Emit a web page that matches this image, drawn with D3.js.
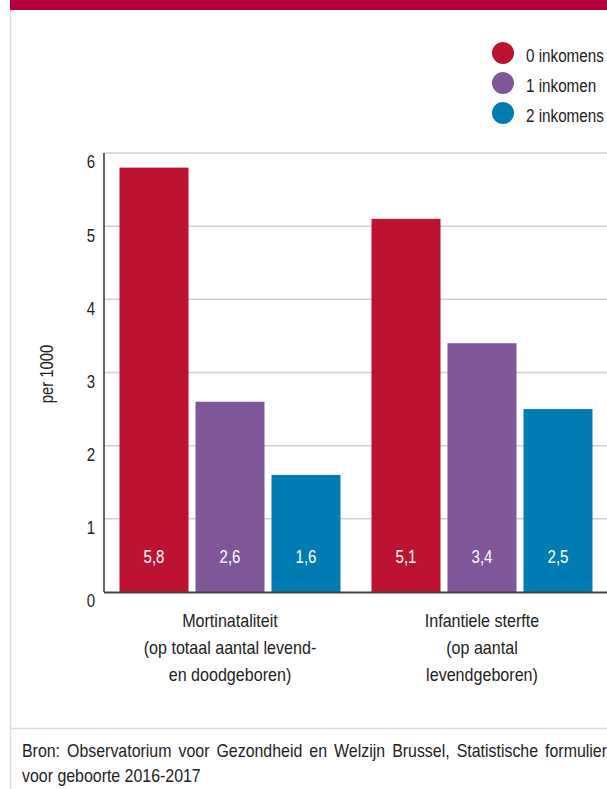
<!DOCTYPE html>
<html>
<head>
<meta charset="utf-8">
<script src="https://cdn.jsdelivr.net/npm/d3@7"></script>
<style>
  html, body { margin: 0; padding: 0; background: #fff; }
  svg { display: block; font-family: "Liberation Sans", Arial, sans-serif; }
</style>
</head>
<body>
<svg id="chart" width="607" height="789"></svg>
<script>
// Perinatal and infant mortality (per 1000) by number of household incomes
const groups = ["Mortinataliteit", "Infantiele sterfte"];
const groupLabels = [
  ["Mortinataliteit", "(op totaal aantal levend-", "en doodgeboren)"],
  ["Infantiele sterfte", "(op aantal", "levendgeboren)"]
];
const seriesNames = ["0 inkomens", "1 inkomen", "2 inkomens"];
const seriesColors = ["#be1233", "#7f5799", "#007cb3"];
const values0 = [5.8, 5.1];   // 0 inkomens
const values1 = [2.6, 3.4];   // 1 inkomen
const values2 = [1.6, 2.5];   // 2 inkomens
const yTicks = [0, 1, 2, 3, 4, 5, 6];
const yTitle = "per 1000";
const sourceLines = [
  "Bron: Observatorium voor Gezondheid en Welzijn Brussel, Statistische formulier",
  "voor geboorte 2016-2017"
];

const seriesValues = [values0, values1, values2];
const fmt = v => String(v).replace(".", ",");
const FS = 17.5;

// narrow the lettering horizontally around each text's own x anchor
function condense(sel, sx) {
  sel.each(function () {
    const x = +(this.getAttribute("x") || 0);
    this.setAttribute("transform", `translate(${x},0) scale(${sx},1) translate(${-x},0)`);
  });
}

const svg = d3.select("#chart");

// header band and frame
svg.append("rect").attr("x", 10).attr("y", 0).attr("width", 597).attr("height", 10).attr("fill", "#b3003a");
svg.append("line").attr("x1", 10.5).attr("x2", 10.5).attr("y1", 10).attr("y2", 789)
  .attr("stroke", "#dcdcdc").attr("stroke-width", 1.5);
svg.append("line").attr("x1", 10).attr("x2", 607).attr("y1", 728.5).attr("y2", 728.5)
  .attr("stroke", "#dcdcdc").attr("stroke-width", 1.5);

const plot = { left: 104, right: 608, top: 153, bottom: 592 };

const x0 = d3.scaleBand().domain(groups).range([plot.left, plot.right]).padding(0);
const x1 = d3.scaleBand().domain(seriesNames).range([0, x0.bandwidth()])
  .paddingInner(0.092).paddingOuter(0.204);
const y = d3.scaleLinear().domain([0, 6]).range([plot.bottom, plot.top]);

// gridlines
svg.append("g")
  .selectAll("line").data(yTicks.filter(t => t > 0)).join("line")
  .attr("x1", plot.left).attr("x2", 607)
  .attr("y1", d => y(d)).attr("y2", d => y(d))
  .attr("stroke", "#d0d0d0").attr("stroke-width", 1.5);

// y axis labels
const yAxis = d3.axisLeft(y).tickValues(yTicks).tickFormat(d3.format("d")).tickSize(0).tickPadding(9);
const gy = svg.append("g").attr("transform", `translate(${plot.left},0)`).call(yAxis);
gy.select(".domain").remove();
gy.selectAll("text").attr("font-size", FS).attr("fill", "#222").attr("dy", "0.85em")
  .attr("font-family", null);
condense(gy.selectAll("text"), 0.86);

svg.append("text")
  .attr("transform", `translate(53,374) rotate(-90) scale(0.85,1)`)
  .attr("text-anchor", "middle").attr("font-size", FS).attr("fill", "#222")
  .text(yTitle);

// bars
const barData = [];
groups.forEach((g, gi) => seriesNames.forEach((s, si) => {
  barData.push({ g, s, si, v: seriesValues[si][gi] });
}));

const bars = svg.append("g").selectAll("g").data(barData).join("g")
  .attr("transform", d => `translate(${x0(d.g) + x1(d.s)},0)`);
bars.append("rect")
  .attr("y", d => y(d.v)).attr("width", x1.bandwidth())
  .attr("height", d => y(0) - y(d.v))
  .attr("fill", d => seriesColors[d.si]);
const vals = bars.append("text")
  .attr("x", x1.bandwidth() / 2).attr("y", y(0) - 29)
  .attr("text-anchor", "middle").attr("font-size", FS).attr("fill", "#fff")
  .text(d => fmt(d.v));
condense(vals, 0.86);

// axes lines
svg.append("line").attr("x1", plot.left).attr("x2", plot.left).attr("y1", plot.top).attr("y2", plot.bottom)
  .attr("stroke", "#333").attr("stroke-width", 1.5);
svg.append("line").attr("x1", plot.left).attr("x2", 607).attr("y1", plot.bottom + 0.5).attr("y2", plot.bottom + 0.5)
  .attr("stroke", "#444").attr("stroke-width", 2);

// category labels
const cat = svg.append("g").selectAll("text").data(groups).join("text")
  .attr("text-anchor", "middle").attr("font-size", FS).attr("fill", "#222")
  .attr("x", d => x0(d) + x0.bandwidth() / 2);
cat.selectAll("tspan").data((d, i) => groupLabels[i]).join("tspan")
  .attr("x", function () { return d3.select(this.parentNode).attr("x"); })
  .attr("y", (d, i) => 627 + i * 27)
  .text(d => d);
condense(cat, 0.92);

// legend
const legend = svg.append("g").selectAll("g").data(seriesNames).join("g")
  .attr("transform", (d, i) => `translate(503,${53 + i * 30})`);
legend.append("circle").attr("r", 11).attr("fill", (d, i) => seriesColors[i]);
const legText = legend.append("text").attr("x", 23).attr("y", 9)
  .attr("font-size", FS).attr("fill", "#222").text(d => d);
condense(legText, 0.87);

// source note; first line spread out to the full width
const src = svg.append("g").selectAll("text").data(sourceLines).join("text")
  .attr("x", 22).attr("y", (d, i) => 757 + i * 25)
  .attr("font-size", FS).attr("fill", "#222")
  .text(d => d);
const srcScale = 0.91;
condense(src, srcScale);
src.filter((d, i) => i === 0).each(function (d) {
  const natural = this.getComputedTextLength();
  const gaps = d.split(" ").length - 1;
  const target = (607 - 22) / srcScale;
  d3.select(this).attr("word-spacing", Math.max(0, (target - natural) / gaps));
});
</script>
</body>
</html>
